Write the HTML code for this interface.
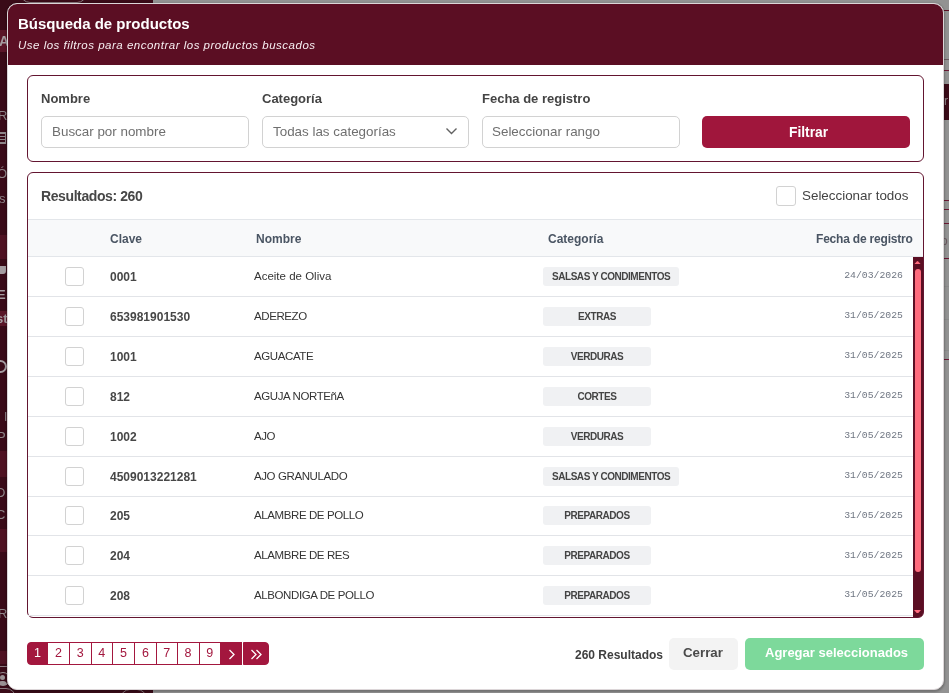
<!DOCTYPE html>
<html><head><meta charset="utf-8">
<style>
*{box-sizing:border-box;margin:0;padding:0}
html,body{width:949px;height:693px;overflow:hidden}
body{will-change:transform}
body{position:relative;background:#929292;font-family:"Liberation Sans",sans-serif;color:#333}
.a{position:absolute;white-space:nowrap;line-height:1}
.bgside{position:absolute;left:0;top:0;width:153px;height:693px;background:#3a0b18}
.modal{position:absolute;left:7px;top:3px;width:937px;height:687px;background:#fff;border-radius:10px;border:1px solid #dcd6d8;box-shadow:0 1px 2px 1px rgba(0,0,0,.22)}
.hdr{position:absolute;left:8px;top:4px;width:935px;height:61px;background:#5b0e23;border-radius:9px 9px 0 0}
.box{position:absolute;border:1px solid #631530;border-radius:6px}
.lbl{font-size:13px;font-weight:bold;color:#444}
.inp{position:absolute;top:116px;height:32px;border:1px solid #d2d2d2;border-radius:5px}
.ph{font-size:13.4px;color:#6f6f6f}
.btnf{position:absolute;left:702px;top:116px;width:208px;height:32px;background:#a0163c;border-radius:5px}
.th{position:absolute;left:28px;top:219px;width:895px;height:38px;background:#f8f9fa;border-top:1px solid #e3e6ea;border-bottom:1px solid #e3e6ea}
.thx{font-size:12px;font-weight:bold;color:#4a5563}
.row{position:absolute;left:28px;width:885px;height:40px;border-bottom:1px solid #e2e4e8}
.cb{position:absolute;width:19px;height:19px;border:1px solid #d2d2d2;border-radius:3px;background:#fff}
.ck{font-size:12px;font-weight:bold;color:#474747}
.nm{font-size:11.5px;color:#353535}
.up{letter-spacing:-0.4px}
.bd{position:absolute;left:543px;height:19px;background:#f0f1f3;border-radius:3px;min-width:108px;padding:0 9px;font-size:10px;font-weight:bold;color:#444;letter-spacing:-0.45px;text-align:center;line-height:19px;white-space:nowrap}
.dt{font-family:"Liberation Mono",monospace;font-size:9.8px;color:#6f7682;right:46px}
.pg{position:absolute;top:642px;height:23px;border:1px solid #a3173e;background:#fff;color:#a3173e;font-size:12.5px;text-align:center;line-height:21px}
.pga{background:#a3173e;color:#fff}
.sb{position:absolute;left:913px;top:257px;width:10px;height:360px;background:#5b0e23;border-radius:0 0 4px 0}
.thumb{position:absolute;left:2px;top:12px;width:6px;height:303px;background:#ff6b7d;border-radius:3px}
</style></head>
<body>
<div class="bgside"></div>
<div id="bgdeco">
<div style="position:absolute;left:20px;top:-20px;width:67px;height:23px;border:1px solid #8a7a7f;border-radius:10px"></div>
<div style="position:absolute;left:120px;top:689px;width:27px;height:20px;border:1px solid #8a7a7f;border-radius:10px"></div><div style="position:absolute;left:-10px;top:688px;width:26px;height:20px;border:1px solid #8a7a7f;border-radius:10px"></div>
<div style="position:absolute;left:0;top:30px;width:153px;height:22px;background:#5a1628"></div>
<div style="position:absolute;left:0;top:235px;width:153px;height:24px;background:#4f1222"></div>
<div style="position:absolute;left:0;top:311px;width:153px;height:15px;background:#5a1628"></div>
<div style="position:absolute;left:0;top:451px;width:153px;height:26px;background:#4f1222"></div>
<div style="position:absolute;left:0;top:529px;width:153px;height:23px;background:#4f1222"></div>
<div style="position:absolute;left:0;top:651px;width:153px;height:13px;background:#4f1222"></div>
<div style="position:absolute;left:0;top:666px;width:153px;height:1px;background:#8a7a7f"></div>
<div class="a" style="left:-1px;top:34px;font-size:14px;font-weight:bold;color:#a59ca0">A</div>
<div class="a" style="left:-2px;top:109px;font-size:13px;color:#8f8689">R</div>
<div class="a" style="left:-6px;top:132px;width:12px;height:12px;border:1px solid #8f8689;background:repeating-linear-gradient(#8f8689 0 1px,transparent 1px 3px)"></div>
<div class="a" style="left:-3px;top:167px;font-size:13px;color:#8f8689">Ó</div>
<div class="a" style="left:-4px;top:192px;font-size:13px;color:#8f8689">is</div>
<div class="a" style="left:-5px;top:266px;width:11px;height:8px;background:#a59ca0;border-radius:0 0 3px 3px"></div>
<div class="a" style="left:-3px;top:288px;font-size:13px;font-weight:bold;color:#a59ca0">E</div>
<div class="a" style="left:-4px;top:312px;font-size:13px;font-weight:bold;color:#a59ca0">st</div>
<div class="a" style="left:-6px;top:360px;width:13px;height:13px;border:2px solid #a59ca0;border-radius:50%"></div>
<div class="a" style="left:4px;top:411px;font-size:12px;color:#8f8689">I</div>
<div class="a" style="left:-3px;top:430px;font-size:13px;color:#8f8689">P</div>
<div class="a" style="left:-4px;top:486px;font-size:13px;color:#8f8689">D</div>
<div class="a" style="left:-4px;top:508px;font-size:13px;color:#8f8689">C</div>
<div class="a" style="left:-2px;top:607px;font-size:13px;color:#8f8689">R</div>
<div class="a" style="left:-4px;top:672px;width:14px;height:14px;border-radius:50%;border:1.5px solid #9a9194"></div><div class="a" style="left:0px;top:675px;width:5px;height:5px;border-radius:50%;background:#9a9194"></div><div class="a" style="left:-2px;top:681px;width:9px;height:4px;border-radius:4px 4px 0 0;background:#9a9194"></div>
<div class="a" style="left:944px;top:10px;width:5px;height:1px;background:#5b0e23"></div>
<div class="a" style="left:944px;top:59px;width:5px;height:1px;background:#6a5a60"></div>
<div class="a" style="left:944px;top:70px;width:5px;height:1px;background:#6b1733"></div>
<div class="a" style="left:944px;top:84px;width:5px;height:36px;background:#3a0b18"></div>
<div class="a" style="left:944px;top:200px;width:5px;height:1px;background:#6b1733"></div>
<div class="a" style="left:944px;top:209px;width:5px;height:1px;background:#6b1733"></div>
<div class="a" style="left:944px;top:223px;width:5px;height:1px;background:#6b1733"></div>
<div class="a" style="left:944px;top:258px;width:5px;height:1px;background:#6b1733"></div>
<div class="a" style="left:944px;top:286px;width:5px;height:1px;background:#8a8a8a"></div>
<div class="a" style="left:944px;top:319px;width:5px;height:1px;background:#8a8a8a"></div>
<div class="a" style="left:944px;top:350px;width:5px;height:1px;background:#8a8a8a"></div>
<div class="a" style="left:944px;top:359px;width:5px;height:1px;background:#6b1733"></div>
<div class="a" style="left:944px;top:95px;font-size:12px;color:#8f8689">r</div>
<div class="a" style="left:941px;top:235px;font-size:12px;color:#6b5a60">o</div>
</div><!--/bgdeco-->
<div class="modal"></div>
<div class="hdr"></div>
<div class="a" style="left:18px;top:16px;font-size:15px;font-weight:bold;color:#fff">Búsqueda de productos</div>
<div class="a" style="left:18px;top:40px;font-size:11.5px;letter-spacing:0.5px;font-style:italic;color:#f6edf0">Use los filtros para encontrar los productos buscados</div>

<!-- filter box -->
<div class="box" style="left:27px;top:75px;width:897px;height:87px"></div>
<div class="a lbl" style="left:41px;top:92px">Nombre</div>
<div class="a lbl" style="left:262px;top:92px">Categoría</div>
<div class="a lbl" style="left:482px;top:92px">Fecha de registro</div>
<div class="inp" style="left:41px;width:208px"></div>
<div class="inp" style="left:262px;width:207px"></div>
<div class="inp" style="left:482px;width:198px"></div>
<div class="a ph" style="left:52px;top:125px">Buscar por nombre</div>
<div class="a ph" style="left:273px;top:125px">Todas las categorías</div>
<div class="a ph" style="left:492px;top:125px">Seleccionar rango</div>
<svg class="a" style="left:445px;top:126px" width="13" height="10" viewBox="0 0 13 10"><path d="M1.5 2.5 L6.5 7.5 L11.5 2.5" fill="none" stroke="#626262" stroke-width="1.4"/></svg>
<div class="btnf"></div>
<div class="a" style="left:789px;top:126px;font-size:13.8px;font-weight:bold;color:#fff">Filtrar</div>

<!-- results box -->
<div class="box" style="left:27px;top:172px;width:897px;height:446px"></div>
<div class="a" style="left:41px;top:189px;font-size:14px;font-weight:bold;color:#474747;letter-spacing:-0.4px">Resultados: 260</div>
<div class="cb" style="left:776px;top:186px;width:20px;height:20px"></div>
<div class="a" style="left:802px;top:189px;font-size:13.4px;color:#444">Seleccionar todos</div>
<div class="th"></div>
<div class="a thx" style="left:110px;top:233px">Clave</div>
<div class="a thx" style="left:256px;top:233px">Nombre</div>
<div class="a thx" style="left:548px;top:233px">Categoría</div>
<div class="a thx" style="left:816px;top:233px;letter-spacing:-0.2px">Fecha de registro</div>

<div id="rows"><div class="row" style="top:257.0px"></div>
<div class="cb" style="left:65px;top:267.0px"></div>
<div class="a ck" style="left:110px;top:271.0px">0001</div>
<div class="a nm" style="left:254px;top:271.0px">Aceite de Oliva</div>
<div class="bd" style="top:267.0px">SALSAS Y CONDIMENTOS</div>
<div class="a dt" style="top:271.2px">24/03/2026</div>
<div class="row" style="top:296.9px"></div>
<div class="cb" style="left:65px;top:306.9px"></div>
<div class="a ck" style="left:110px;top:310.9px">653981901530</div>
<div class="a nm up" style="left:254px;top:310.9px">ADEREZO</div>
<div class="bd" style="top:306.9px">EXTRAS</div>
<div class="a dt" style="top:311.1px">31/05/2025</div>
<div class="row" style="top:336.8px"></div>
<div class="cb" style="left:65px;top:346.8px"></div>
<div class="a ck" style="left:110px;top:350.8px">1001</div>
<div class="a nm up" style="left:254px;top:350.8px">AGUACATE</div>
<div class="bd" style="top:346.8px">VERDURAS</div>
<div class="a dt" style="top:351.0px">31/05/2025</div>
<div class="row" style="top:376.7px"></div>
<div class="cb" style="left:65px;top:386.7px"></div>
<div class="a ck" style="left:110px;top:390.7px">812</div>
<div class="a nm up" style="left:254px;top:390.7px">AGUJA NORTEñA</div>
<div class="bd" style="top:386.7px">CORTES</div>
<div class="a dt" style="top:390.9px">31/05/2025</div>
<div class="row" style="top:416.6px"></div>
<div class="cb" style="left:65px;top:426.6px"></div>
<div class="a ck" style="left:110px;top:430.6px">1002</div>
<div class="a nm up" style="left:254px;top:430.6px">AJO</div>
<div class="bd" style="top:426.6px">VERDURAS</div>
<div class="a dt" style="top:430.8px">31/05/2025</div>
<div class="row" style="top:456.5px"></div>
<div class="cb" style="left:65px;top:466.5px"></div>
<div class="a ck" style="left:110px;top:470.5px">4509013221281</div>
<div class="a nm up" style="left:254px;top:470.5px">AJO GRANULADO</div>
<div class="bd" style="top:466.5px">SALSAS Y CONDIMENTOS</div>
<div class="a dt" style="top:470.7px">31/05/2025</div>
<div class="row" style="top:496.4px"></div>
<div class="cb" style="left:65px;top:506.4px"></div>
<div class="a ck" style="left:110px;top:510.4px">205</div>
<div class="a nm up" style="left:254px;top:510.4px">ALAMBRE DE POLLO</div>
<div class="bd" style="top:506.4px">PREPARADOS</div>
<div class="a dt" style="top:510.6px">31/05/2025</div>
<div class="row" style="top:536.3px"></div>
<div class="cb" style="left:65px;top:546.3px"></div>
<div class="a ck" style="left:110px;top:550.3px">204</div>
<div class="a nm up" style="left:254px;top:550.3px">ALAMBRE DE RES</div>
<div class="bd" style="top:546.3px">PREPARADOS</div>
<div class="a dt" style="top:550.5px">31/05/2025</div>
<div class="row" style="top:576.2px"></div>
<div class="cb" style="left:65px;top:586.2px"></div>
<div class="a ck" style="left:110px;top:590.2px">208</div>
<div class="a nm up" style="left:254px;top:590.2px">ALBONDIGA DE POLLO</div>
<div class="bd" style="top:586.2px">PREPARADOS</div>
<div class="a dt" style="top:590.4px">31/05/2025</div></div><!--/rows-->

<div class="sb"><svg style="position:absolute;left:1.1px;top:3.8px" width="7" height="3.5" viewBox="-0.5 0 7 3.5"><path d="M-0.5 3.5 L2.3 0.4 Q3 -0.3 3.7 0.4 L6.5 3.5Z" fill="#ff6b7d"/></svg><div class="thumb"></div><svg style="position:absolute;left:1.1px;top:352.5px" width="7" height="3.5" viewBox="-0.5 0 7 3.5"><path d="M-0.5 0 L2.3 3.1 Q3 3.8 3.7 3.1 L6.5 0Z" fill="#ff6b7d"/></svg></div>

<!-- footer -->
<div id="pgn"><div class="pg pga" style="left:27px;width:21px;border-radius:4px 0 0 4px">1</div>
<div class="pg" style="left:47px;width:23px">2</div>
<div class="pg" style="left:69px;width:22.5px">3</div>
<div class="pg" style="left:90.5px;width:22.5px">4</div>
<div class="pg" style="left:112px;width:23px">5</div>
<div class="pg" style="left:134px;width:23px">6</div>
<div class="pg" style="left:156px;width:21.5px">7</div>
<div class="pg" style="left:176.5px;width:23.0px">8</div>
<div class="pg" style="left:198.5px;width:22.5px">9</div>
<div class="pg pga" style="left:220px;width:22px"><svg style="position:absolute;left:6.5px;top:5.5px" width="8" height="11" viewBox="0 0 8 11"><path d="M1.5 1 L6 5.5 L1.5 10" fill="none" stroke="#fff" stroke-width="1.3"/></svg></div>
<div class="pg pga" style="left:243.3px;width:25.7px;border-radius:0 4px 4px 0"><svg style="position:absolute;left:6px;top:5.5px" width="13" height="11" viewBox="0 0 13 11"><path d="M1.5 1 L6 5.5 L1.5 10 M6.5 1 L11 5.5 L6.5 10" fill="none" stroke="#fff" stroke-width="1.3"/></svg></div></div><!--/pgn-->
<div class="a" style="left:575px;top:648.5px;font-size:12px;font-weight:bold;color:#3f3f3f">260 Resultados</div>
<div class="a" style="left:669px;top:638px;width:69px;height:32px;background:#f3f3f3;border-radius:5px"></div>
<div class="a" style="left:683px;top:646px;font-size:13.3px;font-weight:bold;color:#4a4a4a">Cerrar</div>
<div class="a" style="left:745px;top:638px;width:179px;height:32px;background:#7dd99b;border-radius:5px"></div>
<div class="a" style="left:765px;top:646px;font-size:13px;font-weight:bold;color:#fff">Agregar seleccionados</div>
</body></html>
